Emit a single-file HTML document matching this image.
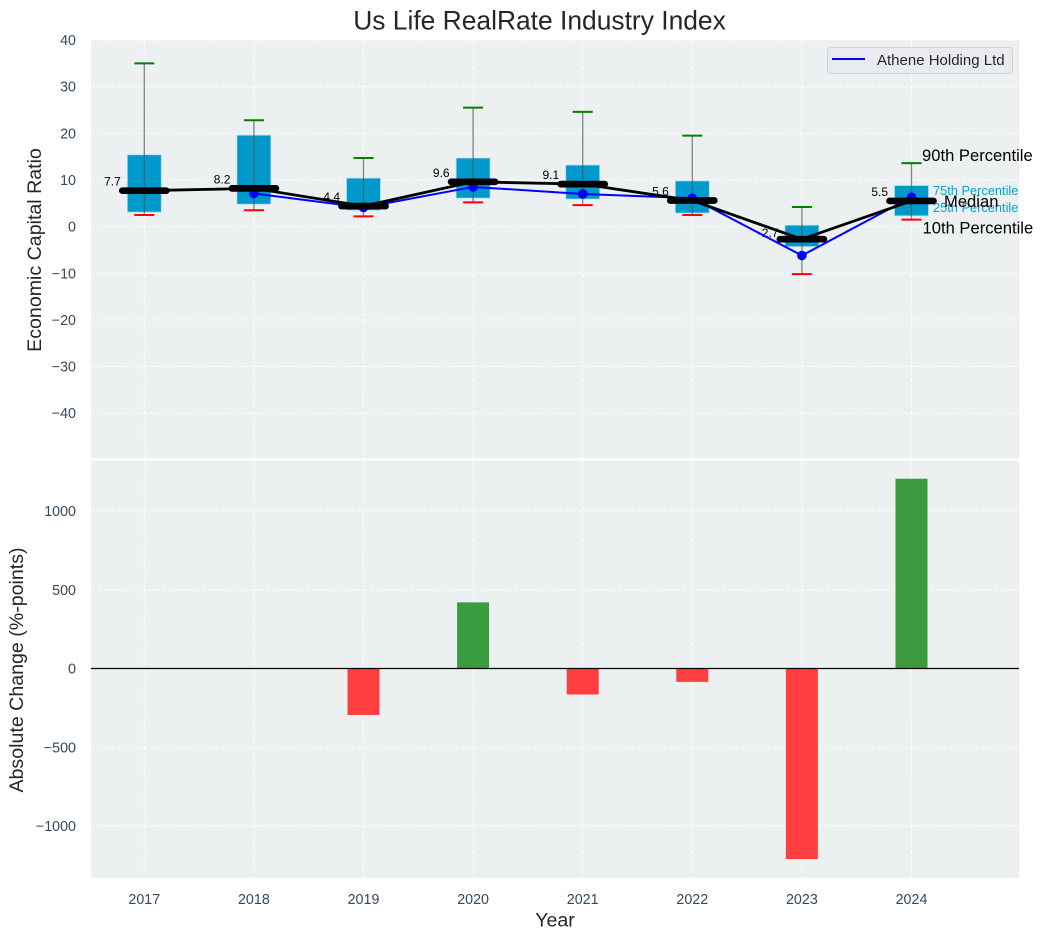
<!DOCTYPE html>
<html lang="en">
<head>
<meta charset="utf-8">
<title>Us Life RealRate Industry Index</title>
<style>
html,body{margin:0;padding:0;background:#fff;}
svg{display:block;font-family:"Liberation Sans",Arial,sans-serif;}
</style>
</head>
<body>
<svg id="chart" xmlns="http://www.w3.org/2000/svg" width="1043" height="940" viewBox="0 0 1043 940"></svg>
<script>
const years = [2017, 2018, 2019, 2020, 2021, 2022, 2023, 2024];
const p90 = [35.0, 22.8, 14.7, 25.5, 24.6, 19.5, 4.2, 13.6];
const p75 = [15.4, 19.6, 10.4, 14.7, 13.2, 9.8, 0.3, 8.8];
const medians = [7.7, 8.2, 4.4, 9.6, 9.1, 5.6, -2.7, 5.5];
const p25 = [3.1, 4.8, 3.5, 6.1, 5.9, 2.9, -4.3, 2.3];
const p10 = [2.5, 3.5, 2.2, 5.2, 4.6, 2.5, -10.2, 1.5];
const company = [null, 7.1, 4.1, 8.5, 7.0, 6.1, -6.2, 6.3];
const changes = [null, null, -295, 420, -165, -85, -1210, 1205];
const topTicks = [40, 30, 20, 10, 0, -10, -20, -30, -40];
const bottomTicks = [1000, 500, 0, -500, -1000];

const svg = document.getElementById('chart');
const NS = 'http://www.w3.org/2000/svg';
const left = 91, right = 1019;
const topA = 40, topB = 459, botA = 460, botB = 878;
const xPos = y => 144.3 + (y - 2017) * 109.6;
const yTop = v => 226.6 - v * 4.665;
const yBot = v => 668.5 - v * 0.1575;
const fmtTick = v => (v < 0 ? '\u2212' + Math.abs(v) : String(v));

function make(tag, attrs, parent) {
  const el = document.createElementNS(NS, tag);
  for (const k in attrs) el.setAttribute(k, attrs[k]);
  (parent || svg).appendChild(el);
  return el;
}
function label(str, attrs, parent) {
  const el = make('text', attrs, parent);
  el.textContent = str;
  return el;
}
const grid = {stroke: '#ffffff', 'stroke-width': 1, 'stroke-dasharray': '4 2.5', 'stroke-opacity': 0.85};

// panels
const topBg = make('rect', {x: left, y: topA, width: right - left, height: topB - topA, fill: '#ecf0f1'});


const botBg = make('rect', {x: left, y: botA, width: right - left, height: botB - botA, fill: '#ecf0f1'});



// grids
years.forEach(y => {
  const g1 = make('line', {x1: xPos(y), x2: xPos(y), y1: topA, y2: topB, ...grid});
  
  
  const g2 = make('line', {x1: xPos(y), x2: xPos(y), y1: botA, y2: botB, ...grid});
  
  
  const t = label(y, {x: xPos(y), y: 904, 'text-anchor': 'middle', 'font-size': 14.3, fill: '#34495e'});
  
  
});
topTicks.forEach(v => {
  const g = make('line', {x1: left, x2: right, y1: yTop(v), y2: yTop(v), ...grid});
  
  
  const t = label(fmtTick(v), {x: 76, y: yTop(v) + 5, 'text-anchor': 'end', 'font-size': 14.3, fill: '#34495e'});
  
  
});
bottomTicks.forEach(v => {
  const g = make('line', {x1: left, x2: right, y1: yBot(v), y2: yBot(v), ...grid});
  
  
  const t = label(fmtTick(v), {x: 76, y: yBot(v) + 5, 'text-anchor': 'end', 'font-size': 14.3, fill: '#34495e'});
  
  
});

const divider = make('line', {x1: left, x2: right, y1: 459.5, y2: 459.5, stroke: '#ffffff', 'stroke-width': 2});



// boxes, whiskers, caps, median labels
years.forEach((y, i) => {
  const x = xPos(y);
  const box = make('rect', {x: x - 17, y: yTop(p75[i]), width: 34, height: yTop(p25[i]) - yTop(p75[i]), fill: '#0099cc', stroke: '#b5dfee', 'stroke-width': 0.8});
  
  
  const wh = make('line', {x1: x, x2: x, y1: yTop(p90[i]), y2: yTop(p10[i]), stroke: '#4a5254', 'stroke-width': 1.3, 'stroke-opacity': 0.7});
  
  
  const hi = make('line', {x1: x - 10, x2: x + 10, y1: yTop(p90[i]), y2: yTop(p90[i]), stroke: '#008000', 'stroke-width': 2});
  
  
  const lo = make('line', {x1: x - 10, x2: x + 10, y1: yTop(p10[i]), y2: yTop(p10[i]), stroke: '#ff0000', 'stroke-width': 2});
  
  
  const ml = label(medians[i].toFixed(1), {x: x - 23.5, y: yTop(medians[i]) - (medians[i] < 0 ? 2 : 5), 'text-anchor': 'end', 'font-size': 12, fill: '#000000'});
  
  
});

// company line + markers (no value for the first year)
const bluePts = years.map((y, i) => company[i] === null ? null : xPos(y) + ',' + yTop(company[i])).filter(Boolean).join(' ');
const blueLine = make('polyline', {points: bluePts, fill: 'none', stroke: '#0000ff', 'stroke-width': 2});


years.forEach((y, i) => {
  if (company[i] === null) return;
  const d = make('circle', {cx: xPos(y), cy: yTop(company[i]), r: 4.8, fill: '#0000ff'});
  
  
});

// median line + thick median bars
const medPts = years.map((y, i) => xPos(y) + ',' + yTop(medians[i])).join(' ');
const medLine = make('polyline', {points: medPts, fill: 'none', stroke: '#000000', 'stroke-width': 2.8});


years.forEach((y, i) => {
  const m = make('line', {x1: xPos(y) - 22, x2: xPos(y) + 22, y1: yTop(medians[i]), y2: yTop(medians[i]), stroke: '#000000', 'stroke-width': 6.7, 'stroke-linecap': 'round'});
  
  
});

// change bars
years.forEach((y, i) => {
  if (changes[i] === null) return;
  const v = changes[i];
  const b = make('rect', {x: xPos(y) - 16, y: Math.min(yBot(v), yBot(0)), width: 32, height: Math.abs(yBot(v) - yBot(0)), fill: v > 0 ? '#3a9c3f' : '#ff3f3f'});
  
  
});
const zero = make('line', {x1: left, x2: right, y1: yBot(0), y2: yBot(0), stroke: '#000000', 'stroke-width': 1.2});



// percentile annotations (placed next to the last box)
const lastX = xPos(years[years.length - 1]);
const lastI = years.length - 1;
const a90 = label('90th Percentile', {x: lastX + 10.5, y: yTop(p90[lastI]) - 2, 'font-size': 16.6, fill: '#000000'});


const a75 = label('75th Percentile', {x: lastX + 21.5, y: yTop(p75[lastI]) + 9.5, 'font-size': 12.8, fill: '#00a3d4'});


const a25 = label('25th Percentile', {x: lastX + 21.5, y: yTop(p25[lastI]) - 4, 'font-size': 12.8, fill: '#00a3d4'});


const aMed = label('Median', {x: lastX + 32.5, y: yTop(medians[lastI]) + 6, 'font-size': 16.6, fill: '#000000'});


const a10 = label('10th Percentile', {x: lastX + 11, y: yTop(p10[lastI]) + 14, 'font-size': 16.6, fill: '#000000'});



// legend
const legBox = make('rect', {x: 827.5, y: 47.5, width: 185, height: 26, rx: 3, fill: '#e9ebf1', stroke: '#cfd2d6', 'stroke-width': 1});


const legLine = make('line', {x1: 832, x2: 865, y1: 59, y2: 59, stroke: '#0000ff', 'stroke-width': 2});


const legText = label('Athene Holding Ltd', {x: 877, y: 65, 'font-size': 15, fill: '#262626'});



// titles
const title = label('Us Life RealRate Industry Index', {x: 539.5, y: 29.5, 'text-anchor': 'middle', 'font-size': 26.4, fill: '#262626'});


const yt1 = label('Economic Capital Ratio', {x: 41, y: 250, 'text-anchor': 'middle', 'font-size': 19.6, fill: '#262626', transform: 'rotate(-90 41 250)'});


const yt2 = label('Absolute Change (%-points)', {x: 23, y: 670, 'text-anchor': 'middle', 'font-size': 19.6, fill: '#262626', transform: 'rotate(-90 23 670)'});


const xt = label('Year', {x: 555, y: 926.5, 'text-anchor': 'middle', 'font-size': 19.6, fill: '#262626'});


</script>
</body>
</html>
